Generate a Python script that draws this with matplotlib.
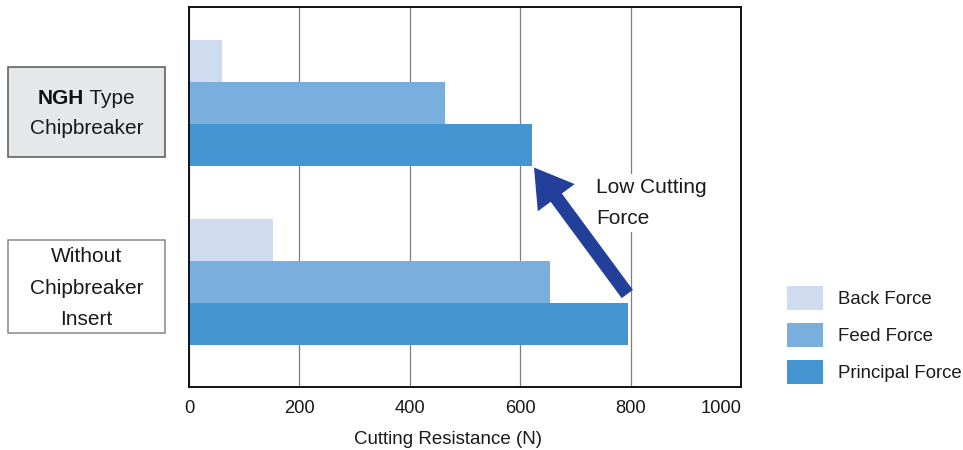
import matplotlib
matplotlib.use("Agg")
import matplotlib.pyplot as plt
from matplotlib.patches import Rectangle, FancyArrowPatch
import numpy as np

plt.rcParams['font.family'] = ['Liberation Sans', 'DejaVu Sans']

groups = ["NGH Type Chipbreaker", "Without Chipbreaker Insert"]
series = ["Back Force", "Feed Force", "Principal Force"]
back_force = [60, 152]
feed_force = [464, 654]
principal_force = [621, 795]
colors = ["#cfdcef", "#7aaedc", "#4595d2"]
xticks = [0, 200, 400, 600, 800, 1000]
xlabel = "Cutting Resistance (N)"
annotation = "Low Cutting\nForce"

W, H = 963, 450
fig = plt.figure(figsize=(W / 100, H / 100), dpi=100)

def fx(px):
    return px / W

def fy(py):
    return 1 - py / H

ax = fig.add_axes([fx(189), fy(387.3), fx(741) - fx(189), fy(7.3) - fy(387.3)])

h = 42 / 179
pos = np.arange(len(groups))
vals = [back_force, feed_force, principal_force]
offsets = [-h, 0, h]
bars = []
for v, off, c, lab in zip(vals, offsets, colors, series):
    b = ax.barh(pos + off, v, height=h, color=c, label=lab, zorder=2, linewidth=0)
    bars.append(b)

ax.set_xlim(0, 1000)
ax.set_ylim(1 + 105.3 / 179, -95.7 / 179)
ax.set_xticks(xticks)
ax.set_xticklabels([str(t) for t in xticks], fontsize=13.2, color="#1a1a1a")
labs = ax.get_xticklabels()
labs[0].set_ha("center")
labs[-1].set_ha("right")
ax.set_yticks([])
ax.tick_params(axis='x', length=0, pad=9)
ax.xaxis.grid(True, color="#7f7f7f", linewidth=0.9, zorder=1)
ax.set_axisbelow(True)
for s in ax.spines.values():
    s.set_linewidth(1.4)
    s.set_color("#111111")
ax.set_xlabel(xlabel, fontsize=13.5, color="#1a1a1a", labelpad=10)
ax.xaxis.set_label_coords((448 - 189) / 552, -0.115, transform=None)
ax.xaxis.label.set_transform(ax.transAxes)
ax.xaxis.label.set_va("top")

# Arrow from bottom principal toward top principal
tail = (794, 1 + 12 / 179)
tip = (principal_force[0] + 4, h + h / 2 + 1.5 / 179)
arr = FancyArrowPatch(posA=tail, posB=tip, transform=ax.transData,
                      arrowstyle="simple,head_length=27,head_width=33,tail_width=10",
                      mutation_scale=1, shrinkA=0, shrinkB=0,
                      color="#22409a", linewidth=0, zorder=5)
ax.add_patch(arr)

ax.text((596 - 189) / 0.552, 0.5 + (203 - 192.5) / 179, annotation, fontsize=15, color="#1a1a1a",
        ha="left", va="center", linespacing=1.8, zorder=6,
        bbox=dict(facecolor="white", edgecolor="none", pad=3))

# Left category boxes
fig.add_artist(Rectangle((fx(8), fy(157)), fx(165) - fx(8), fy(67) - fy(157),
                         transform=fig.transFigure, facecolor="#e6e7e8",
                         edgecolor="#555555", linewidth=1.1))
fig.add_artist(Rectangle((fx(8), fy(333)), fx(165) - fx(8), fy(240) - fy(333),
                         transform=fig.transFigure, facecolor="white",
                         edgecolor="#888888", linewidth=1.1))

cx = fx(86.5)
t1 = fig.text(0, fy(98), "NGH", fontsize=15, fontweight="bold", ha="left", va="center", color="#111111")
t2 = fig.text(0, fy(98), " Type", fontsize=15, ha="left", va="center", color="#1a1a1a")
fig.canvas.draw()
r = fig.canvas.get_renderer()
w1 = t1.get_window_extent(r).width
w2 = t2.get_window_extent(r).width
start = 86.5 - (w1 + w2) / 2
t1.set_x(fx(start))
t2.set_x(fx(start + w1))
fig.text(cx, fy(128), "Chipbreaker", fontsize=15, ha="center", va="center", color="#1a1a1a")

fig.text(cx, fy(288), "Without\nChipbreaker\nInsert", fontsize=15, ha="center", va="center",
         linespacing=1.84, color="#1a1a1a")

leg = fig.legend(handles=bars, labels=series, loc="upper left",
                 bbox_to_anchor=(fx(787), fy(286)), frameon=False, fontsize=13.4,
                 handlelength=1.95, handleheight=1.6, labelspacing=0.7,
                 handletextpad=0.8, borderpad=0, borderaxespad=0)
for t in leg.get_texts():
    t.set_color("#1a1a1a")

fig.savefig("out.png", dpi=100)
